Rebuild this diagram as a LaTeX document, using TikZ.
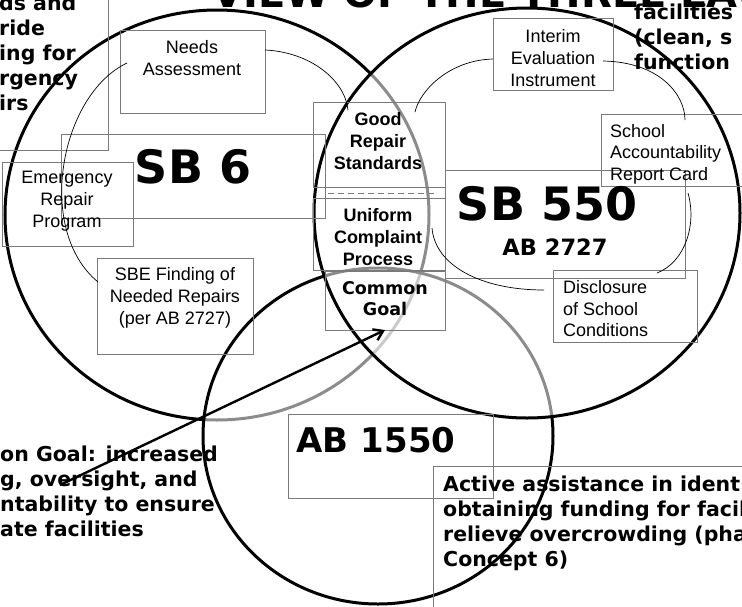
\documentclass[tikz,border=0pt]{standalone}
\usepackage{fontspec}
\setmainfont{Liberation Sans}
\newfontfamily\heavyfont{DejaVu Sans}
\usetikzlibrary{arrows.meta,calc}
\definecolor{boxgray}{HTML}{7A7A7A}
\begin{document}
\begin{tikzpicture}[x=1pt,y=-1pt,
  boxn/.style={draw=boxgray, line width=0.9pt, inner sep=0pt, outer sep=0pt, rectangle},
  conn/.style={draw=black, line width=0.7pt},
  bigcircle/.style={line width=3pt, draw=black},
  reg/.style={font=\fontsize{18}{22}\selectfont, align=center, inner sep=0pt},
  regl/.style={font=\fontsize{18}{21.5}\selectfont, align=left, inner sep=0pt, anchor=west},
  bld/.style={font=\fontsize{18}{22}\selectfont\bfseries, align=center, inner sep=0pt},
  heavy/.style={font=\heavyfont\bfseries\fontsize{20.5}{25}\selectfont, align=left, inner sep=0pt, anchor=west},
  huge/.style={font=\heavyfont\bfseries\fontsize{46}{46}\selectfont, inner sep=0pt},
  arrowline/.style={line width=2.4pt, -{Straight Barb[length=9pt,width=12pt,line width=2.4pt]}}
]
\clip (0,0) rectangle (742,606);
\fill[white] (0,0) rectangle (742,606);

% circles: SB 6 (back), AB 1550, SB 550 (front)
\draw[bigcircle] (217,215) ellipse [x radius=212, y radius=205];
\draw[bigcircle, fill=white, fill opacity=0.55] (378,436) ellipse [x radius=175, y radius=168];
\draw[bigcircle, fill=white, fill opacity=0.55] (527,213) ellipse [x radius=213, y radius=205];

% boxes
\node[boxn, minimum width=130, minimum height=170] (tlbox) at (43,65) {};
\node[boxn, minimum width=145, minimum height=83] (needs) at (192.5,71.5) {};
\node[boxn, minimum width=120, minimum height=72] (interim) at (553,54) {};
\node[boxn, minimum width=132, minimum height=85] (good) at (379,144.5) {};
\node[boxn, minimum width=132, minimum height=72] (uniform) at (379,234) {};
\node[boxn, minimum width=120, minimum height=59] (common) at (385,300.5) {};
\node[boxn, minimum width=264, minimum height=84] (sb6box) at (193,176) {};
\node[boxn, minimum width=131, minimum height=84] (emerg) at (67.5,204) {};
\node[boxn, minimum width=156, minimum height=96] (sbe) at (175,306) {};
\node[boxn, minimum width=159, minimum height=72] (school) at (680.5,150) {};
\node[boxn, minimum width=240, minimum height=108] (sb550box) at (565,224) {};
\node[boxn, minimum width=144, minimum height=72] (discl) at (625,306) {};
\node[boxn, minimum width=205, minimum height=84] (ab1550box) at (390.5,456) {};
\node[boxn, minimum width=327, minimum height=154] (active) at (596.5,543) {};

% dashed separator
\draw[boxgray, dashed, line width=0.9pt, dash pattern=on 6pt off 4pt] ($(good.south west)+(15,6)$) -- ($(good.south east)+(-8,6)$);

% texts in boxes
\node[reg] (needst) at (192,58) {Needs\\Assessment};
\node[reg] (interimt) at (553,58) {Interim\\Evaluation\\Instrument};
\node[bld] (goodt) at (378,141) {Good\\Repair\\Standards};
\node[bld] (uniformt) at (378,237) {Uniform\\Complaint\\Process};
\node[font=\heavyfont\bfseries\fontsize{17.5}{21}\selectfont, align=center, inner sep=0pt] (commont) at (385,299) {Common\\Goal};
\node[reg] (emergt) at (67,201.5) {Emergency\\Repair\\Program};
\node[reg] (sbet) at (175,297.5) {SBE Finding of\\Needed Repairs\\(per AB 2727)};
\node[regl] (schoolt) at (610,154) {School\\Accountability\\Report Card};
\node[regl] (disclt) at (563,309) {Disclosure\\of School\\Conditions};
\node[huge] (sb6t) at (193,167) {SB 6};
\node[huge] (sb550t) at (547,204) {SB 550};
\node[font=\heavyfont\bfseries\fontsize{22.5}{22.5}\selectfont, inner sep=0pt] (ab2727t) at (555,247) {AB 2727};
\node[font=\heavyfont\bfseries\fontsize{34}{34}\selectfont, inner sep=0pt] (ab1550t) at (376,440) {AB 1550};

% clipped heavy texts
\node[heavy] (tltext) at (-1,53) {ds and\\ride\\ing for\\rgency\\irs};
\node[heavy] (trtext) at (634,37) {facilities\\(clean, s\\function};
\node[heavy] (bltext) at (0,491) {on Goal: increased\\g, oversight, and\\ntability to ensure\\ate facilities};
\node[heavy] (activet) at (443,523) {Active assistance in ident\\obtaining funding for facil\\relieve overcrowding (pha\\Concept 6)};

% title (mostly cut off at the top)
\node[font=\heavyfont\bfseries\fontsize{40}{40}\selectfont, inner sep=0pt, anchor=base west] (title) at (212,7) {VIEW OF THE THREE LAWS EFFECT};

% thin connectors
\draw[conn] ($(needs.west)+(7,-8.5)$) .. controls (60,95) and (35,230) .. ($(sbe.west)+(1,-24)$);
\draw[conn] ($(needs.east)+(0,-21.5)$) .. controls (310,52) and (345,80) .. ($(good.north)+(-31,8)$);
\draw[conn] ($(interim.west)+(0,5)$) .. controls (450,60) and (420,90) .. ($(good.north)+(36,10)$);
\draw[conn] ($(interim.east)+(-10,7)$) .. controls (660,62) and (685,95) .. ($(school.north)+(4.5,6)$);
\draw[conn] ($(school.south)+(7.5,7)$) .. controls (697,225) and (685,262) .. ($(discl.north)+(32,3)$);
\draw[conn] ($(uniform.east)+(-13,-6)$) .. controls (435,265) and (480,290) .. ($(discl.west)+(-9,-16)$);

% arrow to common goal
\coordinate (cgtail) at (60,485);
\draw[arrowline] (cgtail) -- (common.south);
\end{tikzpicture}
\end{document}
